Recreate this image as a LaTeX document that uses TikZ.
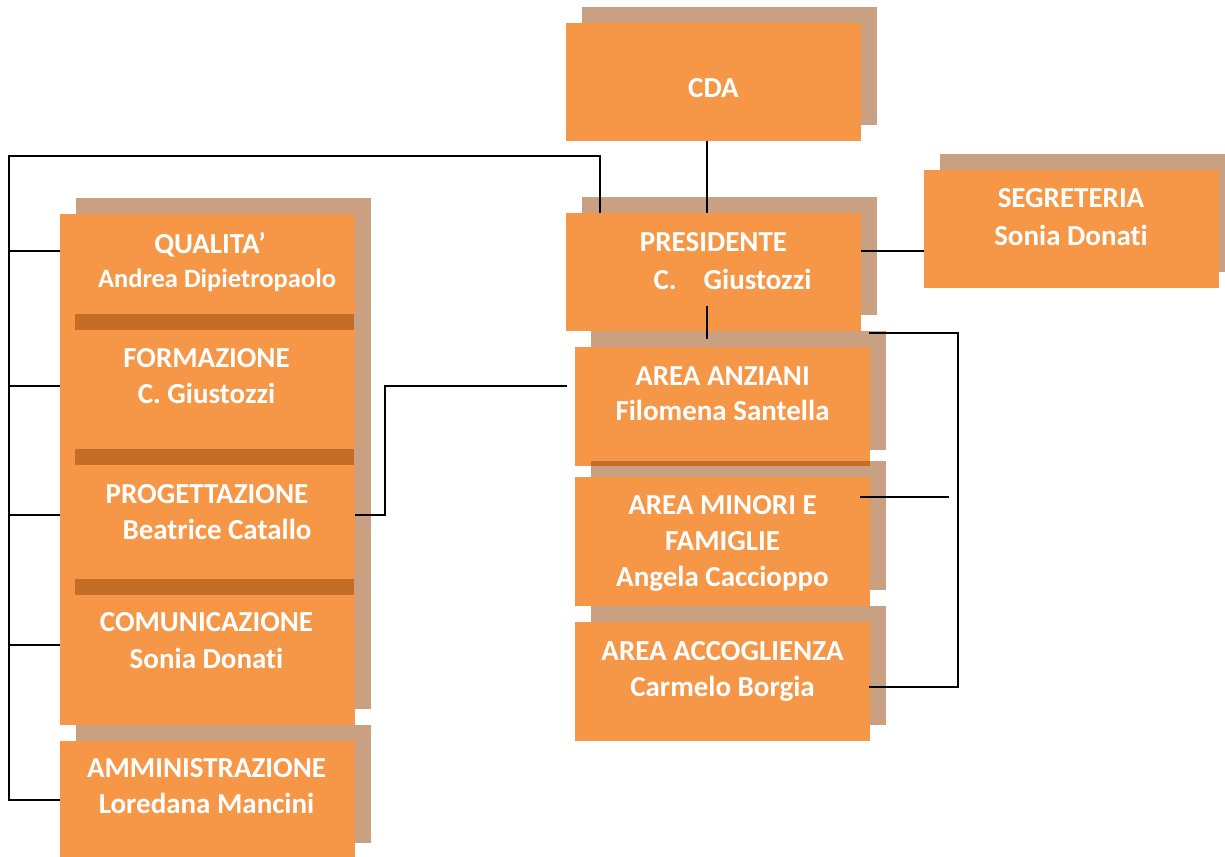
\documentclass[tikz,border=0pt]{standalone}
\usepackage{fontspec}
\setmainfont{Carlito}[Ligatures=NoCommon]
\usetikzlibrary{calc,shadows}
\definecolor{boxorange}{RGB}{246,151,72}
\definecolor{boxshadow}{RGB}{201,161,130}
\definecolor{boxstripe}{RGB}{197,109,38}
\begin{document}
\begin{tikzpicture}[x=1pt,y=-1pt,
  orgbox/.style={rectangle, anchor=north west, inner sep=0pt, outer sep=0pt,
    fill=boxorange, minimum width=295pt,
    general shadow={fill=boxshadow, shadow xshift=16pt, shadow yshift=16pt}},
  orgtext/.style={anchor=north, inner sep=0pt, outer sep=0pt, text=white, align=center,
    font=\fontsize{29}{36}\selectfont\bfseries},
  stripe/.style={fill=boxstripe},
  link/.style={draw=black, line width=1.7pt}]
\useasboundingbox (0,0) rectangle (1225,856);

% boxes
\node[orgbox, minimum height=118pt] (cda)  at (566,23)  {};
\node[orgbox, minimum height=118pt] (pres) at (566,213) {};
\node[orgbox, minimum height=118pt] (seg)  at (924,170) {};
\node[orgbox, minimum height=118pt] (qual) at (60,214)  {};
\node[orgbox, minimum height=135pt] (form) at (60,330)  {};
\node[orgbox, minimum height=130pt] (prog) at (60,465)  {};
\node[orgbox, minimum height=130pt] (com)  at (60,595)  {};
\node[orgbox, minimum height=118pt] (amm)  at (60,741)  {};
\node[orgbox, minimum height=119pt] (anz)  at (575,347) {};
\node[orgbox, minimum height=129pt] (min)  at (575,477) {};
\node[orgbox, minimum height=119pt] (acc)  at (575,622) {};

% overlapping shadow stripes
\fill[stripe] (75,314) rectangle (354,330);
\fill[stripe] (75,449) rectangle (354,465);
\fill[stripe] (75,579) rectangle (354,595);
\fill[stripe] (591,461) rectangle (870,466);

% texts
\node[orgtext] (cda-t) at (713.5,78.6) {CDA};
\node[orgtext, font=\fontsize{29}{38}\selectfont\bfseries] (pres-t) at (713.5,232.6)
  {PRESIDENTE\\\hspace*{38pt}C.\hspace{27pt}Giustozzi};
\node[orgtext, font=\fontsize{29}{38}\selectfont\bfseries] (seg-t) at (1071,188.6)
  {SEGRETERIA\\Sonia Donati};
\node[orgtext, font=\fontsize{29}{34}\selectfont\bfseries] (qual-t) at (207,232.6)
  {\hspace*{6pt}QUALITA’\\{\fontsize{26.5}{34}\selectfont\hspace*{20pt}Andrea Dipietropaolo}};
\node[orgtext] (form-t) at (206.5,348.6) {FORMAZIONE\\C. Giustozzi};
\node[orgtext] (prog-t) at (207,484.6) {PROGETTAZIONE\\\hspace*{20pt}Beatrice Catallo};
\node[orgtext, font=\fontsize{29}{37}\selectfont\bfseries] (com-t) at (206.5,612.6)
  {COMUNICAZIONE\\Sonia Donati};
\node[orgtext] (amm-t) at (206.5,758.6) {AMMINISTRAZIONE\\Loredana Mancini};
\node[orgtext, font=\fontsize{29}{35}\selectfont\bfseries] (anz-t) at (722.5,367)
  {AREA ANZIANI\\Filomena Santella};
\node[orgtext] (min-t) at (722.5,495.4) {AREA MINORI E\\FAMIGLIE\\Angela Caccioppo};
\node[orgtext] (acc-t) at (722.5,641.4) {AREA ACCOGLIENZA\\Carmelo Borgia};

% connectors
\coordinate (busTop) at (9,156);
\coordinate (busBot) at (9,800);
\coordinate (pn) at ($(pres.north west)+(34,0)$);
\draw[link] (pn) |- (busTop) -- (busBot) -- (busBot -| amm.west);
\coordinate (q1) at ($(qual.west)+(0,-22)$);
\coordinate (f1) at ($(form.west)+(0,-11.5)$);
\coordinate (g1) at ($(prog.west)+(0,-15)$);
\coordinate (c1) at ($(com.west)+(0,-15)$);
\draw[link] (q1) -- (q1 -| busTop);
\draw[link] (f1) -- (f1 -| busTop);
\draw[link] (g1) -- (g1 -| busTop);
\draw[link] (c1) -- (c1 -| busTop);

\draw[link] ($(cda.south)+(-6.5,0)$) -- ($(pres.north)+(-6.5,0)$);
\coordinate (s1) at ($(seg.west)+(0,22)$);
\draw[link] (s1 -| pres.east) -- (s1);
\draw[link] ($(pres.south)+(-6.5,-25)$) -- ($(pres.south)+(-6.5,8)$);

\coordinate (rTop) at (958,333);
\coordinate (rBot) at (958,687);
\draw[link] ($(anz.north east)+(-1,-14)$) -- (rTop) -- (rBot) -- ($(acc.east)+(-1,5.5)$);
\draw[link] ($(min.east)+(-10,-44.5)$) -- ($(min.east)+(79,-44.5)$);

\draw[link] ($(prog.east)+(0,-15)$) -- ++(30,0) |- ($(anz.west)+(-8,-20.5)$);
\end{tikzpicture}
\end{document}
